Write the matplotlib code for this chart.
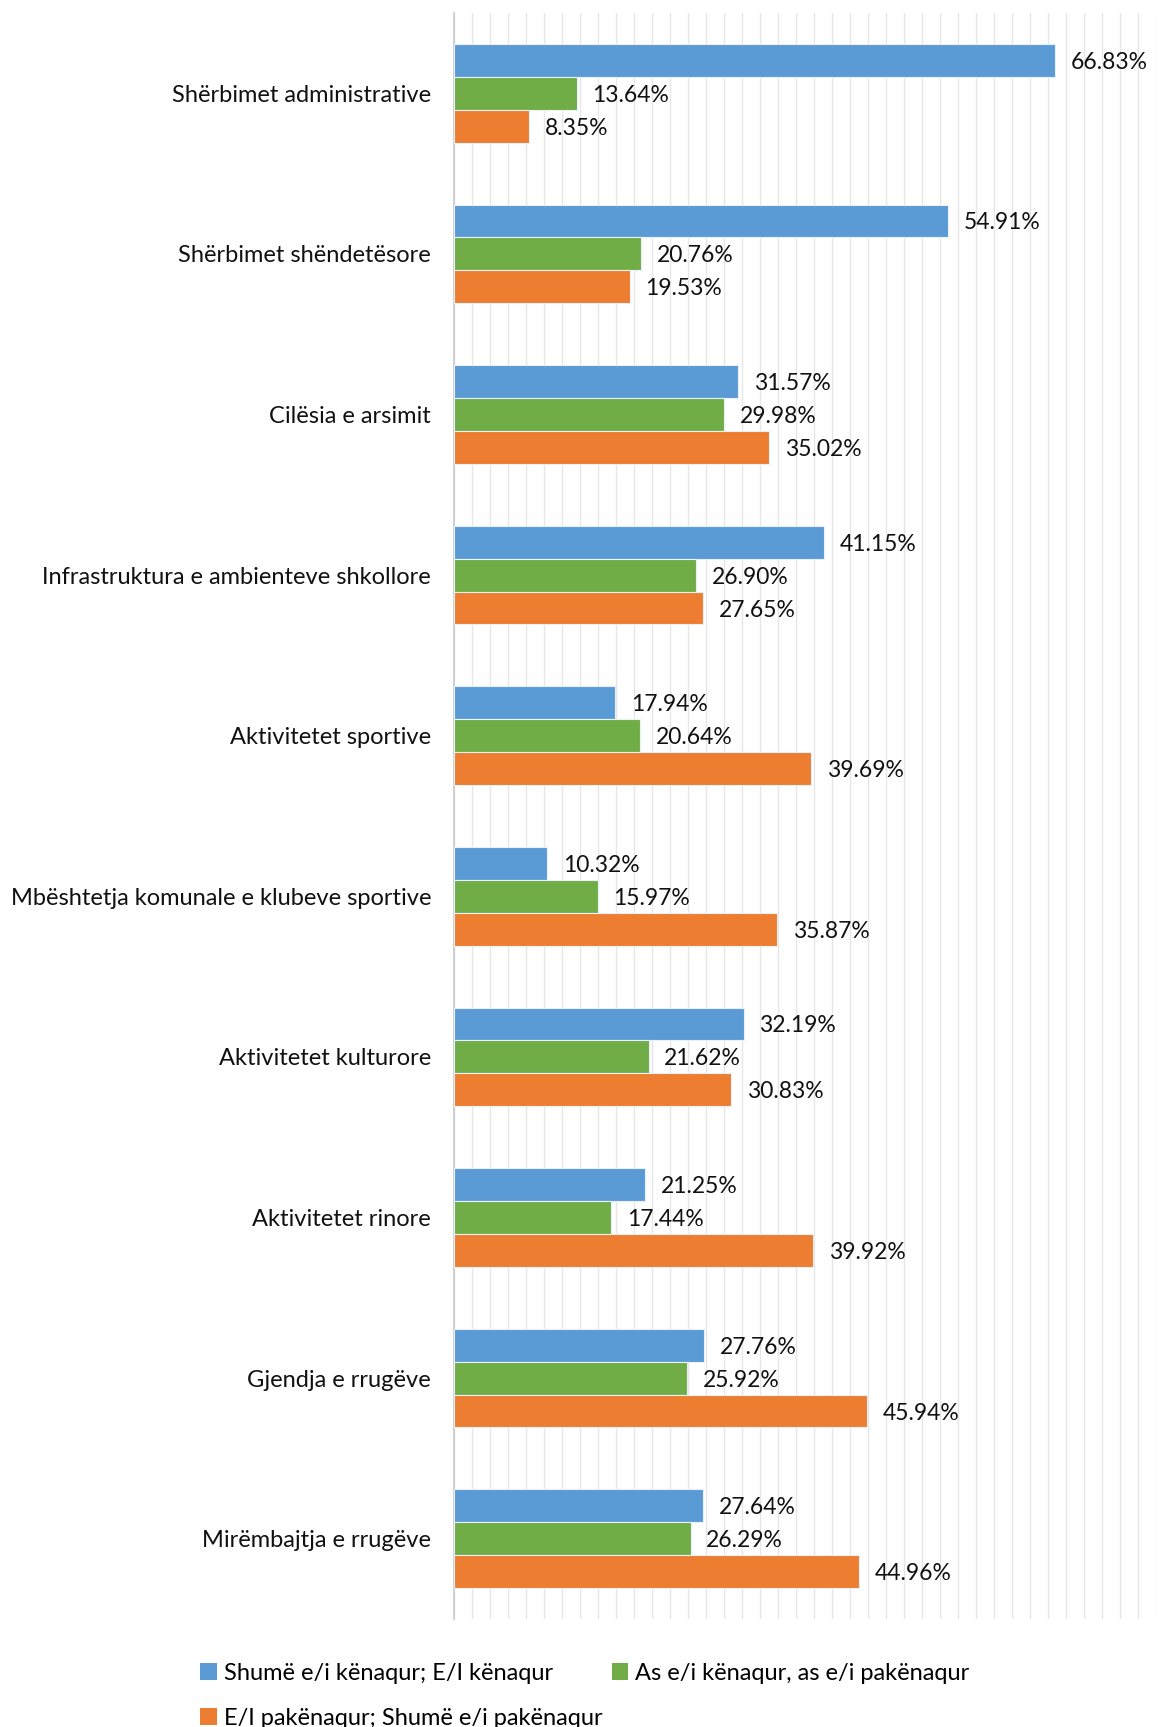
import matplotlib
matplotlib.use("Agg")
import matplotlib.pyplot as plt
import numpy as np
from matplotlib.patches import Patch
from matplotlib.ticker import MultipleLocator

plt.rcParams['font.family'] = ['Lato', 'DejaVu Sans']

categories = [
    "Shërbimet administrative",
    "Shërbimet shëndetësore",
    "Cilësia e arsimit",
    "Infrastruktura e ambienteve shkollore",
    "Aktivitetet sportive",
    "Mbështetja komunale e klubeve sportive",
    "Aktivitetet kulturore",
    "Aktivitetet rinore",
    "Gjendja e rrugëve",
    "Mirëmbajtja e rrugëve",
]
series_names = [
    "Shumë e/i kënaqur; E/I kënaqur",
    "As e/i kënaqur, as e/i pakënaqur",
    "E/I pakënaqur; Shumë e/i pakënaqur",
]
satisfied = [66.83, 54.91, 31.57, 41.15, 17.94, 10.32, 32.19, 21.25, 27.76, 27.64]
neutral = [13.64, 20.76, 29.98, 26.90, 20.64, 15.97, 21.62, 17.44, 25.92, 26.29]
dissatisfied = [8.35, 19.53, 35.02, 27.65, 39.69, 35.87, 30.83, 39.92, 45.94, 44.96]

colors = ["#5B9BD5", "#70AD47", "#ED7D31"]

fig = plt.figure(figsize=(11.66, 17.27), dpi=100)
ax = fig.add_axes([454/1166, 1 - 1619/1727, (1156-454)/1166, (1619-13)/1727])

y = np.arange(len(categories))
h = 0.205
for i, (vals, c) in enumerate(zip([satisfied, neutral, dissatisfied], colors)):
    pos = y + (i - 1) * h
    bars = ax.barh(pos, vals, height=h, color=c, edgecolor="#EAF0F7", linewidth=0.8, zorder=3)
    for b, v in zip(bars, vals):
        ax.text(v + 1.75, b.get_y() + b.get_height() / 2, f"{v:.2f}%",
                va="center_baseline", ha="left", fontsize=16.5, color="#111111", zorder=4)

ax.set_xlim(0, 78)
ax.set_ylim(len(categories) - 0.5, -0.5)
ax.xaxis.set_major_locator(MultipleLocator(2))
ax.grid(axis="x", color="#E6E6E6", linewidth=1.0, zorder=0)
ax.set_axisbelow(True)
ax.set_xticklabels([])
ax.tick_params(axis="x", length=0)
ax.set_yticks(y)
ax.set_yticklabels(categories, fontsize=17, color="#111111")
ax.tick_params(axis="y", length=0, pad=16.5)
for s in ["top", "right", "bottom"]:
    ax.spines[s].set_visible(False)
ax.spines["left"].set_color("#C8C8C8")
ax.spines["left"].set_linewidth(1.2)

handles = [Patch(facecolor=c, edgecolor="none") for c in colors]
order = [0, 2, 1]
leg = fig.legend([handles[i] for i in order], [series_names[i] for i in order],
                 loc="upper left", bbox_to_anchor=(200/1166, 1 - 1663/1727),
                 ncol=2, frameon=False, fontsize=17, handlelength=0.7, handleheight=0.7,
                 handletextpad=0.3, columnspacing=0.4, labelspacing=1.0, borderaxespad=0,
                 borderpad=0)

fig.savefig("out.png", dpi=100, facecolor="white")
